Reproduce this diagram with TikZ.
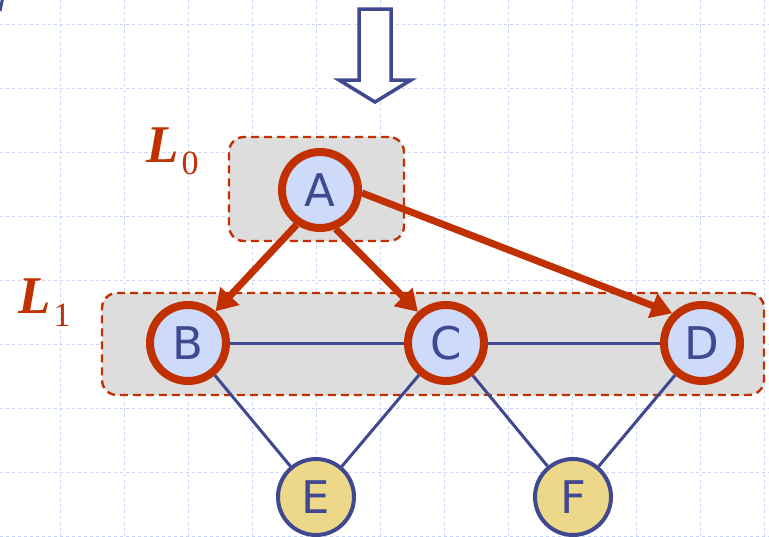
\documentclass[tikz,border=0pt]{standalone}
\usepackage{fontspec}
\setmainfont{DejaVu Sans}
\newfontfamily\lfont{Liberation Serif}
\usetikzlibrary{arrows.meta}
\definecolor{redc}{RGB}{192,48,0}
\definecolor{bluec}{RGB}{64,72,144}
\definecolor{lblue}{RGB}{205,218,250}
\definecolor{yel}{RGB}{236,216,136}
\definecolor{boxg}{RGB}{221,221,221}
\definecolor{gridc}{RGB}{200,212,248}
\begin{document}
\begin{tikzpicture}[x=1pt,y=-1pt,
  gridline/.style={gridc,line width=1pt,dash pattern=on 3pt off 3pt},
  layerbox/.style={draw=redc,fill=boxg,line width=2.4pt,dash pattern=on 8pt off 5pt,rounded corners=15pt,inner sep=0pt},
  vred/.style={circle,draw=redc,line width=8pt,fill=lblue,minimum size=76pt,inner sep=0pt,outer sep=4pt,text=bluec,font=\fontsize{45}{45}\selectfont},
  vyel/.style={circle,draw=bluec,line width=4pt,fill=yel,minimum size=76pt,inner sep=0pt,outer sep=2pt,text=bluec,font=\fontsize{45}{45}\selectfont},
  redarrow/.style={redc,line width=7pt,-{Triangle[length=21pt,width=25pt]}},
  blueedge/.style={bluec,line width=3pt},
  lab/.style={text=redc,anchor=base west,inner sep=0pt}
]
\useasboundingbox (0,0) rectangle (769,536);
% grid
\foreach \x in {60,124,...,764} \draw[gridline] (\x,0) -- (\x,536);
\foreach \y in {24,88,...,536} \draw[gridline] (0,\y) -- (769,\y);
% corner stroke
\draw[bluec,line width=3pt] (2.5,-1) -- (0,11);
% top arrow
\draw[bluec,line width=3.5pt,fill=white,line join=miter]
  (359,9) -- (391,9) -- (391,80) -- (411,80) -- (375,102) -- (339,80) -- (359,80) -- cycle;
% layer boxes
\node[layerbox,minimum width=175pt,minimum height=104pt] (L0box) at (316.5,189) {};
\node[layerbox,minimum width=662pt,minimum height=102pt] (L1box) at (433,344) {};
% labels
\node[lab] (L0) at (146,162) {\lfont\fontsize{53}{53}\selectfont\bfseries\itshape L\kern3pt\raisebox{-12pt}{\fontsize{34}{34}\selectfont\upshape\mdseries 0}};
\node[lab] (L1) at (18,313) {\lfont\fontsize{53}{53}\selectfont\bfseries\itshape L\kern3pt\raisebox{-13pt}{\fontsize{34}{34}\selectfont\upshape\mdseries 1}};
% vertices
\node[vred] (A) at (320,190) {A};
\node[vred] (B) at (188,343) {B};
\node[vred] (C) at (446,343) {C};
\node[vred] (D) at (702,343) {D};
\node[vyel] (E) at (316,497) {E};
\node[vyel] (F) at (573,497) {F};
% blue edges
\draw[blueedge] (B) -- (C);
\draw[blueedge] (C) -- (D);
\draw[blueedge] (B) -- (E);
\draw[blueedge] (C) -- (E);
\draw[blueedge] (C) -- (F);
\draw[blueedge] (D) -- (F);
% red arrows
\draw[redarrow] (A.236) -- (B.49);
\draw[redarrow] (A.-68) -- (C.132);
\draw[redarrow] (A.-4) -- (D.135);
\end{tikzpicture}
\end{document}
